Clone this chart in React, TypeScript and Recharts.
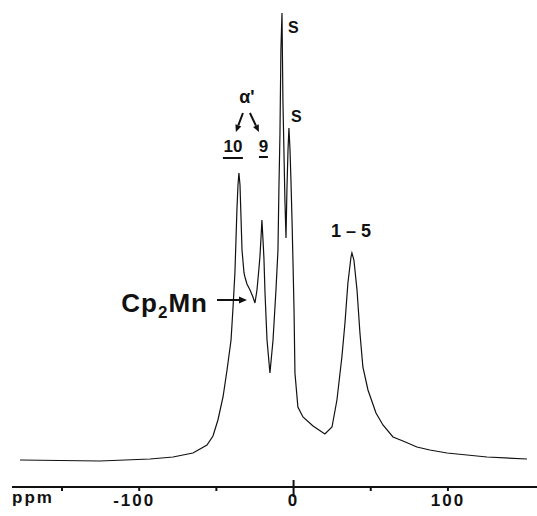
import React from 'react';
import { LineChart, Line, XAxis, YAxis, ReferenceDot } from 'recharts';

// Chemical shift (ppm) and relative intensity
const ppmValues = [
  -177.2, -151.3, -125.4, -93.0, -78.1, -65.2, -60.6, -56.1, -52.2, -49.0,
  -45.7, -43.1, -40.5, -39.2, -38.0, -37.3, -36.7, -36.0, -35.4, -34.7,
  -34.1, -33.4, -32.1, -31.5, -30.2, -28.2, -26.3, -25.0, -23.7, -22.4,
  -21.8, -21.1, -20.5, -19.8, -19.2, -18.5, -17.2, -15.3, -13.3, -11.4,
  -10.1, -9.5, -8.8, -8.2, -7.5, -6.9, -5.6, -4.9, -4.3, -3.6,
  -3.0, -2.3, -1.7, -1.0, -0.4, 0.3, 0.9, 2.8, 6.1, 12.6,
  20.3, 24.9, 28.1, 31.3, 33.3, 35.2, 37.2, 37.8, 39.1, 41.1,
  43.0, 44.9, 48.2, 53.4, 57.9, 64.4, 70.9, 79.9, 88.3, 99.4,
  125.3, 151.2,
];
const intensityValues = [
  5.4, 5.3, 5.2, 5.6, 6.0, 6.8, 7.6, 8.4, 10.2, 13.4,
  18.0, 23.4, 29.4, 36.0, 42.8, 49.4, 55.4, 60.4, 62.8, 60.4,
  54.4, 47.4, 42.8, 42.0, 40.6, 39.4, 38.0, 36.8, 39.4, 43.8,
  46.0, 49.8, 53.4, 49.4, 45.8, 38.8, 29.4, 22.8, 29.4, 39.4,
  47.4, 59.4, 70.8, 87.4, 94.8, 77.4, 57.4, 49.8, 59.4, 67.4,
  71.8, 67.4, 61.4, 53.4, 45.4, 35.4, 22.8, 16.0, 14.0, 12.2,
  10.6, 12.0, 17.4, 26.0, 32.8, 40.8, 46.0, 46.8, 45.4, 39.4,
  30.8, 24.0, 19.4, 14.8, 12.4, 10.0, 9.2, 8.0, 7.4, 6.8,
  6.0, 5.6,
];
const tickValues = [-150, -100, -50, 0, 50, 100];
const labeledTicks = [-100, 0, 100];
const axisTitle = 'ppm';

// annotation anchors (ppm, intensity) and texts
const peakS1 = { ppm: -7.5, i: 94.8, text: 'S' };
const peakS2 = { ppm: -3.0, i: 71.8, text: 'S' };
const peak10 = { ppm: -35.4, i: 62.8, alpha: "α'", a: '10', b: '9' };
const dipCp2Mn = { ppm: -25.0, i: 36.8 };
const peak15 = { ppm: 37.8, i: 46.8, text: '1 – 5' };

const data = ppmValues.map((p, k) => ({ ppm: p, i: intensityValues[k] }));

const FONT = '"Liberation Sans", Arial, Helvetica, sans-serif';
const INK = '#111';

function Arrow({ x1, y1, x2, y2, w = 2, head = 7 }: any) {
  const dx = x2 - x1;
  const dy = y2 - y1;
  const len = Math.hypot(dx, dy);
  const ux = dx / len;
  const uy = dy / len;
  const bx = x2 - ux * head;
  const by = y2 - uy * head;
  const px = -uy;
  const py = ux;
  const hw = head * 0.45;
  return (
    <g>
      <line x1={x1} y1={y1} x2={bx} y2={by} stroke={INK} strokeWidth={w} />
      <polygon
        points={`${x2},${y2} ${bx + px * hw},${by + py * hw} ${bx - px * hw},${by - py * hw}`}
        fill={INK}
      />
    </g>
  );
}

const AxisTick = (props: any) => {
  const { x, y, payload } = props;
  const v = payload.value;
  const up = v === 0 ? 7 : 0;
  const down = v === 0 ? 10 : 4;
  return (
    <g>
      <line x1={x} x2={x} y1={y - up} y2={y + down} stroke={INK} strokeWidth={2} />
      {labeledTicks.includes(v) && (
        <text
          x={x + (v < 0 ? -5 : 0)}
          y={y + 19}
          textAnchor="middle"
          fontFamily={FONT}
          fontWeight="bold"
          fontSize={17}
          letterSpacing={2}
          fill={INK}
        >
          {String(v)}
        </text>
      )}
    </g>
  );
};

const textStyle = { fontFamily: FONT, fontWeight: 'bold' as const, fill: INK };

export default function App() {
  return (
    <div style={{ position: 'absolute', left: 0, top: 0, background: '#fff' }}>
      <LineChart
        width={537}
        height={516}
        data={data}
        margin={{ top: 7, right: 0, bottom: 0, left: 12 }}
      >
        <XAxis
          dataKey="ppm"
          type="number"
          domain={[-182.4, 157.7]}
          allowDataOverflow
          ticks={tickValues}
          interval={0}
          tickSize={0}
          tickMargin={0}
          tick={<AxisTick />}
          height={29}
          axisLine={{ stroke: INK, strokeWidth: 2 }}
          tickLine={false}
          label={{
            content: (p: any) => {
              const vb = p.viewBox || { x: 12, y: 487 };
              return (
                <text x={vb.x} y={vb.y + 16} textAnchor="start" fontSize={17} letterSpacing={2} {...textStyle}>
                  {axisTitle}
                </text>
              );
            },
          }}
        />
        <YAxis type="number" domain={[0, 96]} hide allowDataOverflow />
        <Line
          type="linear"
          dataKey="i"
          stroke={INK}
          strokeWidth={1.2}
          dot={false}
          isAnimationActive={false}
        />
        <ReferenceDot
          x={peakS1.ppm}
          y={peakS1.i}
          r={0}
          ifOverflow="visible"
          shape={(p: any) => (
            <text x={p.cx + 6} y={p.cy + 20} fontSize={16} {...textStyle}>
              {peakS1.text}
            </text>
          )}
        />
        <ReferenceDot
          x={peakS2.ppm}
          y={peakS2.i}
          r={0}
          ifOverflow="visible"
          shape={(p: any) => (
            <text x={p.cx + 2} y={p.cy - 6} fontSize={16} {...textStyle}>
              {peakS2.text}
            </text>
          )}
        />
        <ReferenceDot
          x={peak10.ppm}
          y={peak10.i}
          r={0}
          ifOverflow="visible"
          shape={(p: any) => {
            const cx = p.cx;
            const cy = p.cy;
            return (
              <g>
                <text x={cx + 8} y={cy - 70} textAnchor="middle" fontSize={18} {...textStyle}>
                  {peak10.alpha}
                </text>
                <Arrow x1={cx + 4} y1={cy - 60} x2={cx - 3} y2={cy - 41} />
                <Arrow x1={cx + 11} y1={cy - 60} x2={cx + 20} y2={cy - 41} />
                <text x={cx - 6} y={cy - 21} textAnchor="middle" fontSize={17} {...textStyle}>
                  {peak10.a}
                </text>
                <line x1={cx - 16} x2={cx + 4} y1={cy - 15} y2={cy - 15} stroke={INK} strokeWidth={2} />
                <text x={cx + 24.5} y={cy - 21} textAnchor="middle" fontSize={17} {...textStyle}>
                  {peak10.b}
                </text>
                <line x1={cx + 20} x2={cx + 29} y1={cy - 16} y2={cy - 16} stroke={INK} strokeWidth={2} />
              </g>
            );
          }}
        />
        <ReferenceDot
          x={dipCp2Mn.ppm}
          y={dipCp2Mn.i}
          r={0}
          ifOverflow="visible"
          shape={(p: any) => {
            const cx = p.cx;
            const cy = p.cy;
            return (
              <g>
                <text x={cx - 47} y={cy + 9} textAnchor="end" fontSize={26} letterSpacing={1} {...textStyle}>
                  Cp
                  <tspan fontSize={17} dy={6}>2</tspan>
                  <tspan dy={-6}>Mn</tspan>
                </text>
                <Arrow x1={cx - 38} y1={cy - 3} x2={cx - 8} y2={cy - 3} w={2} head={8} />
              </g>
            );
          }}
        />
        <ReferenceDot
          x={peak15.ppm}
          y={peak15.i}
          r={0}
          ifOverflow="visible"
          shape={(p: any) => (
            <text x={p.cx - 1} y={p.cy - 16} textAnchor="middle" fontSize={18} {...textStyle}>
              {peak15.text}
            </text>
          )}
        />
      </LineChart>
    </div>
  );
}
